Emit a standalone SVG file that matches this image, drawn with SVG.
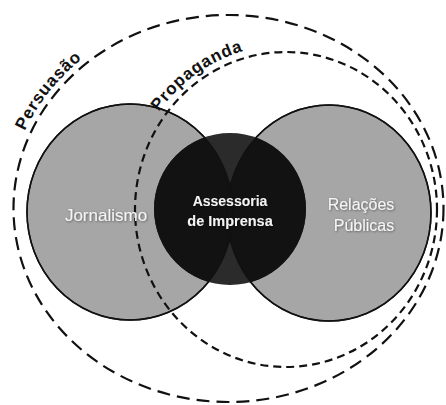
<svg xmlns="http://www.w3.org/2000/svg" width="446" height="405" viewBox="0 0 446 405">
  <style>
    .outer { fill: #a6a6a6; stroke: #111; stroke-width: 1.6; }
    .edge { fill: none; stroke: #111; stroke-width: 1.4; }
    .lbl { font-family: "Liberation Sans", Arial, sans-serif; fill: #f4f4f4; text-anchor: middle; }
    .arc { font-family: "Liberation Sans", Arial, sans-serif; font-weight: bold; font-size: 17px; fill: #111; letter-spacing: 0.8px; }
    .dashA { fill: none; stroke: #111; stroke-width: 2.2; stroke-dasharray: 13 7; }
    .dashB { fill: none; stroke: #111; stroke-width: 2.2; stroke-dasharray: 8 5; }
  </style>
  <defs>
    <clipPath id="midClip"><circle cx="230" cy="209" r="76"/></clipPath>
    <filter id="sh" x="-20%" y="-40%" width="140%" height="180%">
      <feDropShadow dx="0.8" dy="0.8" stdDeviation="0.8" flood-color="#000" flood-opacity="0.45"/>
    </filter>
    <path id="persPath" d="M 7.5,208.5 A 221,199.5 0 0 1 449.5,208.5 A 221,199.5 0 0 1 7.5,208.5"/>
    <path id="propPath" d="M 128,209.5 A 158,164.5 0 0 1 444,209.5 A 158,164.5 0 0 1 128,209.5"/>
  </defs>
  <rect width="446" height="405" fill="#ffffff"/>

  <g id="jornalismo">
    <ellipse class="outer" cx="130" cy="212" rx="103" ry="108"/>
  </g>
  <g id="relacoes-publicas">
    <ellipse class="outer" cx="329" cy="213" rx="102" ry="108"/>
  </g>
  <g id="assessoria-de-imprensa">
    <circle cx="230" cy="209" r="76" fill="#2b2b2b"/>
    <g clip-path="url(#midClip)">
      <ellipse cx="130" cy="212" rx="103" ry="108" fill="#121212"/>
      <ellipse cx="329" cy="213" rx="102" ry="108" fill="#121212"/>
    </g>
    <ellipse class="edge" cx="130" cy="212" rx="103" ry="108"/>
    <ellipse class="edge" cx="329" cy="213" rx="102" ry="108"/>
  </g>

  <g id="connectors">
    <ellipse id="persuasao-ring" class="dashA" cx="228.5" cy="208.5" rx="215" ry="193.5"/>
    <ellipse id="propaganda-ring" class="dashB" cx="286" cy="209.5" rx="151" ry="157.5"/>
  </g>

  <g id="persuasao">
    <text class="arc"><textPath href="#persPath" startOffset="80">Persuasão</textPath></text>
  </g>
  <g id="propaganda">
    <text class="arc"><textPath href="#propPath" startOffset="104">Propaganda</textPath></text>
  </g>

  <g id="labels">
    <text class="lbl" x="106" y="221" font-size="17" filter="url(#sh)">Jornalismo</text>
    <text class="lbl" x="230" y="206" font-size="14" font-weight="bold" filter="url(#sh)">Assessoria</text>
    <text class="lbl" x="230" y="226" font-size="14.5" font-weight="bold" filter="url(#sh)">de Imprensa</text>
    <text class="lbl" x="361" y="210" font-size="16" filter="url(#sh)">Relações</text>
    <text class="lbl" x="364" y="231" font-size="16" filter="url(#sh)">Públicas</text>
  </g>
</svg>
